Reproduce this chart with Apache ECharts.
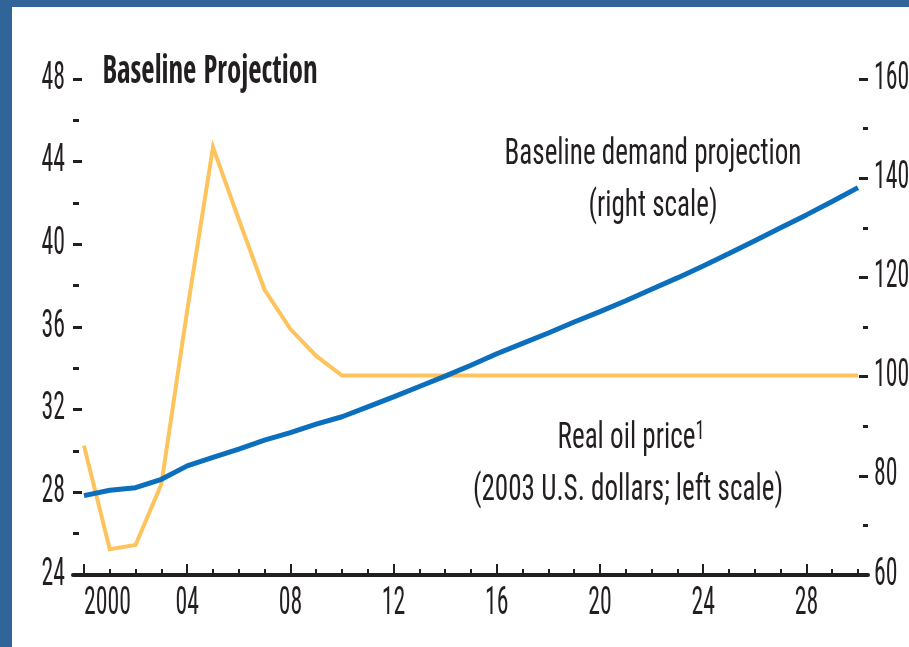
<!DOCTYPE html>
<html>
<head>
<meta charset="utf-8">
<script src="https://cdn.jsdelivr.net/npm/echarts@6/dist/echarts.min.js"></script>
<style>
  html, body { margin: 0; padding: 0; background: #ffffff; overflow: hidden; }
  #chart { width: 909px; height: 647px; }
</style>
</head>
<body>
<div id="chart"></div>
<script>
// ---- data ----
const years = [2000, 2001, 2002, 2003, 2004, 2005, 2006, 2007, 2008, 2009, 2010,
               2011, 2012, 2013, 2014, 2015, 2016, 2017, 2018, 2019, 2020,
               2021, 2022, 2023, 2024, 2025, 2026, 2027, 2028, 2029, 2030];
// Real oil price, 2003 U.S. dollars (left scale)
const oilPrice = [30.25, 25.25, 25.45, 28.4, 36.8, 44.7, 41.2, 37.8, 35.9, 34.6, 33.65,
                  33.65, 33.65, 33.65, 33.65, 33.65, 33.65, 33.65, 33.65, 33.65, 33.65,
                  33.65, 33.65, 33.65, 33.65, 33.65, 33.65, 33.65, 33.65, 33.65, 33.65];
// Baseline demand projection (right scale)
const demand = [76.0, 77.1, 77.6, 79.3, 82.0, 83.7, 85.4, 87.2, 88.7, 90.4, 91.9,
                93.9, 95.9, 98.0, 100.1, 102.3, 104.6, 106.7, 108.8, 111.0, 113.1,
                115.3, 117.6, 119.9, 122.3, 124.8, 127.4, 130.0, 132.6, 135.3, 138.1];
// tick labels
const xTickYears = [2000, 2004, 2008, 2012, 2016, 2020, 2024, 2028];
const xTickLabels = ['2000', '04', '08', '12', '16', '20', '24', '28'];
const leftTickLabels = ['24', '28', '32', '36', '40', '44', '48'];
const rightTickLabels = ['60', '80', '100', '120', '140', '160'];
const leftMinorTicks = [26, 30, 34, 38, 42, 46];
const rightMinorTicks = [70, 90, 110, 130, 150];
const titleText = 'Baseline Projection';
const demandLabel = ['Baseline demand projection', '(right scale)'];
const oilLabel = ['Real oil price', '1', '(2003 U.S. dollars; left scale)'];

// ---- styling ----
const FONT = '"Roboto Condensed", "DejaVu Sans Condensed", sans-serif';
const INK = '#231f20';
const BLUE = '#0b6fbd';
const ORANGE = '#fdc35c';
const FRAME = '#31659a';
const AXIS_FS = 38;

function measure(text, font) {
  const c = document.createElement('canvas').getContext('2d');
  c.font = font;
  return c.measureText(text).width;
}
const annoFont = '37px "Roboto Condensed", "DejaVu Sans Condensed", sans-serif';
const annoScale = 297 / measure(demandLabel[0], annoFont);
const titleFont = 'bold 39px "Open Sans Condensed", "Roboto Condensed", sans-serif';
const titleScale = 215 / measure(titleText, titleFont);
const axisFont = AXIS_FS + 'px ' + FONT;
const axisScale = 47 / measure('2000', axisFont);

const chart = echarts.init(document.getElementById('chart'), null, { renderer: 'canvas' });

const labelStyle = { color: INK, fontFamily: FONT, fontSize: AXIS_FS };

const option = {
  backgroundColor: '#ffffff',
  animation: false,
  grid: { left: 73, right: 41, top: 79, bottom: 72, containLabel: false, outerBoundsMode: 'none' },
  xAxis: [
    {
      type: 'value', min: 1999.574, max: 2030.388, position: 'bottom',
      axisLine: { show: true, lineStyle: { color: INK, width: 4 } },
      axisTick: { show: true, inside: true, length: 6, customValues: years,
                  lineStyle: { color: INK, width: 2 } },
      axisLabel: { show: false },
      splitLine: { show: false }
    },
    {
      type: 'value', min: 1999.574, max: 2030.388, position: 'bottom', offset: 0,
      axisLine: { show: false },
      axisTick: { show: true, inside: true, length: 11, customValues: xTickYears,
                  lineStyle: { color: INK, width: 2 } },
      axisLabel: Object.assign({
        show: true, margin: 10, customValues: xTickYears, hideOverlap: false,
        formatter: function (v) {
          const i = xTickYears.indexOf(Math.round(v));
          return i >= 0 ? xTickLabels[i] : '';
        }
      }, labelStyle),
      splitLine: { show: false }
    }
  ],
  yAxis: [
    {
      type: 'value', min: 24, max: 48, interval: 4, position: 'left',
      axisLine: { show: false },
      axisTick: { show: true, inside: true, length: 9, lineStyle: { color: INK, width: 3 } },
      axisLabel: Object.assign({ margin: 8 }, labelStyle),
      splitLine: { show: false }
    },
    {
      type: 'value', min: 60, max: 160, interval: 20, position: 'right',
      axisLine: { show: false },
      axisTick: { show: true, inside: true, length: 9, lineStyle: { color: INK, width: 3 } },
      axisLabel: Object.assign({ margin: 6 }, labelStyle),
      splitLine: { show: false }
    },
    {
      type: 'value', min: 24, max: 48, position: 'left', offset: 0,
      axisLine: { show: false },
      axisTick: { show: true, inside: true, length: 6, customValues: leftMinorTicks,
                  lineStyle: { color: INK, width: 3 } },
      axisLabel: { show: false },
      splitLine: { show: false }
    },
    {
      type: 'value', min: 60, max: 160, position: 'right', offset: 0,
      axisLine: { show: false },
      axisTick: { show: true, inside: true, length: 5, customValues: rightMinorTicks,
                  lineStyle: { color: INK, width: 3 } },
      axisLabel: { show: false },
      splitLine: { show: false }
    }
  ],
  series: [
    {
      name: 'Real oil price', type: 'line', xAxisIndex: 0, yAxisIndex: 0,
      data: years.map((y, i) => [y, oilPrice[i]]),
      showSymbol: false, symbol: 'none', smooth: false,
      lineStyle: { color: ORANGE, width: 4, join: 'miter' }, z: 3
    },
    {
      name: 'Baseline demand projection', type: 'line', xAxisIndex: 0, yAxisIndex: 1,
      data: years.map((y, i) => [y, demand[i]]),
      showSymbol: false, symbol: 'none', smooth: false,
      lineStyle: { color: BLUE, width: 5 }, z: 4
    }
  ],
  graphic: [
    { type: 'rect', z: 100, shape: { x: 0, y: 0, width: 12, height: 647 }, style: { fill: FRAME } },
    { type: 'rect', z: 100, shape: { x: 0, y: 0, width: 909, height: 7 }, style: { fill: FRAME } },
    {
      type: 'text', x: 102.5, y: 72.5, scaleX: titleScale, z: 50,
      style: { text: titleText, x: 0, y: 0, fill: INK, font: titleFont,
               textAlign: 'left', textVerticalAlign: 'middle' }
    },
    {
      type: 'text', x: 653, y: 155, scaleX: annoScale, z: 50,
      style: { text: demandLabel[0], x: 0, y: 0, fill: INK, font: annoFont,
               textAlign: 'center', textVerticalAlign: 'middle' }
    },
    {
      type: 'text', x: 653, y: 207, scaleX: annoScale, z: 50,
      style: { text: demandLabel[1], x: 0, y: 0, fill: INK, font: annoFont,
               textAlign: 'center', textVerticalAlign: 'middle' }
    },
    {
      type: 'text', x: 631, y: 439, scaleX: annoScale, z: 50,
      style: {
        text: oilLabel[0] + '{s|' + oilLabel[1] + '}', x: 0, y: 0, fill: INK, font: annoFont,
        textAlign: 'center', textVerticalAlign: 'middle',
        rich: { s: { fontSize: 25, fontFamily: FONT, fill: INK, verticalAlign: 'top' } }
      }
    },
    {
      type: 'text', x: 628, y: 490.5, scaleX: annoScale, z: 50,
      style: { text: oilLabel[2], x: 0, y: 0, fill: INK, font: annoFont,
               textAlign: 'center', textVerticalAlign: 'middle' }
    }
  ]
};
chart.setOption(option);

// Condense the axis tick labels horizontally (the reference uses a condensed face).
(function condenseAxisLabels() {
  const zr = chart.getZr();
  const wanted = new Set([].concat(xTickLabels, leftTickLabels, rightTickLabels));
  const done = new Set();
  function handle(el) {
    if (!el) return;
    let t = el;
    if (t.parent && t.parent.type === 'text' && t.type !== 'text') t = t.parent;
    if (done.has(t) || !t.style || !wanted.has(String(t.style.text))) return;
    done.add(t);
    t.scaleX = axisScale;
    if (String(t.style.text) === xTickLabels[0] && t.style.align === 'center') {
      t.setStyle && t.setStyle('align', 'left');
    }
    t.markRedraw && t.markRedraw();
    t.dirty && t.dirty();
  }
  zr.storage.getDisplayList(true).forEach(handle);
  if (zr.storage.traverse) zr.storage.traverse(handle);
  zr.refreshImmediately ? zr.refreshImmediately() : zr.refresh();
})();
</script>
</body>
</html>
